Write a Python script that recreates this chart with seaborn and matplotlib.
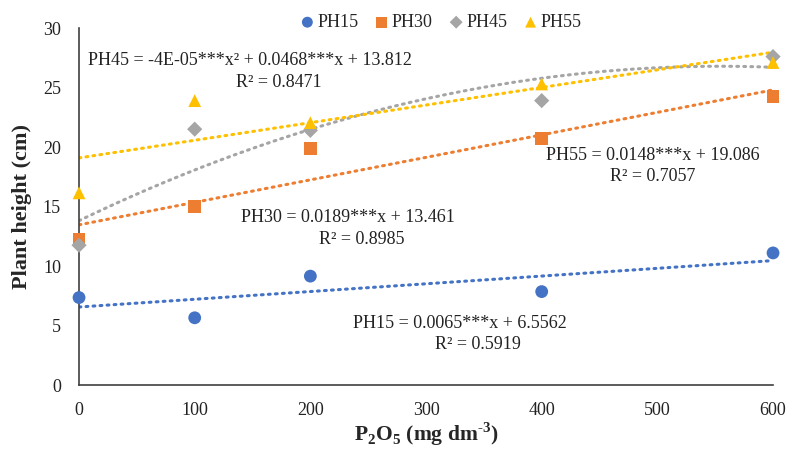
import numpy as np
import pandas as pd
import matplotlib
matplotlib.use("Agg")
import matplotlib.pyplot as plt
import seaborn as sns
from matplotlib.ticker import MultipleLocator

sns.set_style("white")
plt.rcParams['font.family'] = ['Liberation Serif', 'DejaVu Serif']
plt.rcParams['mathtext.fontset'] = 'custom'
plt.rcParams['mathtext.rm'] = 'Liberation Serif'
plt.rcParams['mathtext.bf'] = 'Liberation Serif:bold'

# data
doses = [0, 100, 200, 400, 600]
ph15 = [7.35, 5.65, 9.15, 7.85, 11.1]
ph30 = [12.2, 15.0, 19.9, 20.7, 24.25]
ph45 = [11.75, 21.5, 21.4, 23.9, 27.6]
ph55 = [16.15, 23.9, 22.05, 25.3, 27.1]
series_names = ["PH15", "PH30", "PH45", "PH55"]
# trend coefficients (highest power first)
coef15 = [0.0065, 6.5562]
coef30 = [0.0189, 13.461]
coef45 = [-4.22e-05, 0.0468, 13.812]
coef55 = [0.0148, 19.086]
eq_lines = [
    "PH15 = 0.0065***x + 6.5562",
    "PH30 = 0.0189***x + 13.461",
    "PH45 = -4E-05***x² + 0.0468***x + 13.812",
    "PH55 = 0.0148***x + 19.086",
]
r2_lines = ["R² = 0.5919", "R² = 0.8985", "R² = 0.8471", "R² = 0.7057"]

colors = ["#4472C4", "#ED7D31", "#A5A5A5", "#FFC000"]
markers = ["o", "s", "D", "^"]
sizes = [85, 85, 60, 85]
eq_pos = [(329, 5.2), (232.6, 14.1), (148, 27.3), (496, 19.3)]
r2_pos = [(345, 3.4), (244.7, 12.2), (173, 25.4), (496, 17.5)]

fig, ax = plt.subplots(figsize=(7.88, 4.49), dpi=100)
fig.subplots_adjust(left=0.1003, right=0.981, bottom=0.1425, top=0.9376)

values = [ph15, ph30, ph45, ph55]
coefs = [coef15, coef30, coef45, coef55]
xs = np.linspace(0, 600, 200)
for name, vals, cf, col in zip(series_names, values, coefs, colors):
    ax.plot(xs, np.polyval(cf, xs), color=col, lw=2.2, linestyle=(0, (0.6, 1.7)),
            dash_capstyle='round', zorder=2)
for name, vals, col, mk, sz in zip(series_names, values, colors, markers, sizes):
    df = pd.DataFrame({"x": doses, "y": vals})
    sns.scatterplot(data=df, x="x", y="y", ax=ax, color=col, marker=mk, s=sz,
                    edgecolor="none", label=name, zorder=3, clip_on=False)

for txt, (tx, ty) in zip(eq_lines, eq_pos):
    ax.text(tx, ty, txt, ha="center", va="center", fontsize=13, color="#222222", zorder=4)
for txt, (tx, ty) in zip(r2_lines, r2_pos):
    ax.text(tx, ty, txt, ha="center", va="center", fontsize=13, color="#222222", zorder=4)

ax.set_xlim(0, 600)
ax.set_ylim(0, 30)
ax.xaxis.set_major_locator(MultipleLocator(100))
ax.xaxis.set_minor_locator(MultipleLocator(20))
ax.yaxis.set_major_locator(MultipleLocator(5))
ax.yaxis.set_minor_locator(MultipleLocator(1))
ax.tick_params(axis="both", which="both", direction="in", color="#404040",
               labelsize=13, labelcolor="#222222")
ax.tick_params(axis="both", which="major", length=6, width=1)
ax.tick_params(axis="both", which="minor", length=4, width=1)
ax.tick_params(axis="x", which="major", pad=12)
ax.tick_params(axis="y", which="major", pad=13)
sns.despine(ax=ax)
for sp in ["left", "bottom"]:
    ax.spines[sp].set_color("#404040")
    ax.spines[sp].set_linewidth(1.2)

ax.set_xlabel("P$_\\mathbf{2}$O$_\\mathbf{5}$ (mg dm$^{\\mathbf{\u20103}}$)", fontsize=15.5,
              fontweight="bold", labelpad=1)
ax.set_ylabel("Plant height (cm)", fontsize=16, fontweight="bold", labelpad=8)

ax.legend(loc="upper center", bbox_to_anchor=(0.52, 1.085), ncol=4, frameon=False,
          fontsize=13, markerscale=0.85, handletextpad=0.05, columnspacing=0.8,
          handlelength=1.0)

fig.savefig("out.png", dpi=100)
